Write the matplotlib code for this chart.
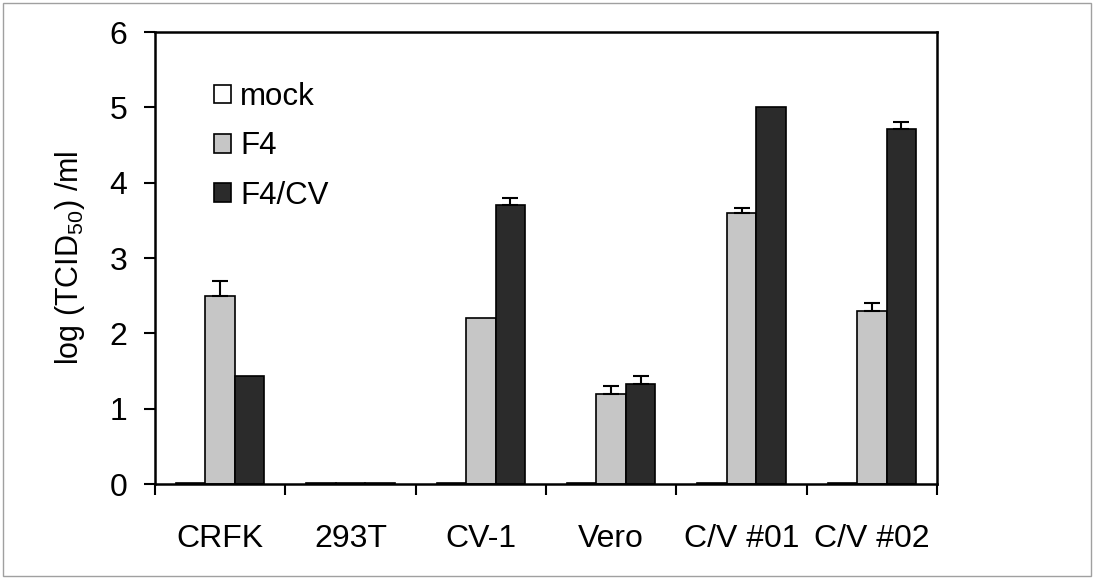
import numpy as np
import matplotlib.pyplot as plt
from matplotlib.patches import Rectangle

cells = ['CRFK', '293T', 'CV-1', 'Vero', 'C/V #01', 'C/V #02']
series = ['mock', 'F4', 'F4/CV']

mock = [0.02, 0.02, 0.02, 0.02, 0.02, 0.02]
f4 = [2.5, 0.02, 2.2, 1.2, 3.6, 2.3]
f4cv = [1.43, 0.02, 3.7, 1.33, 5.0, 4.71]

mock_err = [0, 0, 0, 0, 0, 0]
f4_err = [0.2, 0, 0, 0.1, 0.06, 0.1]
f4cv_err = [0, 0, 0.1, 0.1, 0, 0.1]

colors = ['white', '#c6c6c6', '#2b2b2b']

plt.rcParams['font.family'] = ['Liberation Sans', 'DejaVu Sans']
plt.rcParams['mathtext.fontset'] = 'custom'
plt.rcParams['mathtext.rm'] = 'Liberation Sans'

fig = plt.figure(figsize=(10.94, 5.78), dpi=100)
ax = fig.add_axes([0.1417, 0.1626, 0.7148, 0.782])

x = np.arange(len(cells))
w = 0.226
vals = [mock, f4, f4cv]
errs = [mock_err, f4_err, f4cv_err]
for i, (v, e) in enumerate(zip(vals, errs)):
    pos = x + (i - 1) * w
    ax.bar(pos, v, w, color=colors[i], edgecolor='black', linewidth=1.2,
           label=series[i], zorder=2)
    e = np.array(e)
    m = e > 0
    if m.any():
        ax.errorbar(pos[m], np.array(v)[m],
                    yerr=np.vstack([np.zeros(m.sum()), e[m]]),
                    fmt='none', ecolor='black', elinewidth=1.5,
                    capsize=6, capthick=1.5, zorder=3)

ax.set_xlim(-0.5, len(cells) - 0.5)
ax.set_ylim(0, 6)
ax.set_yticks(range(7))
ax.set_xticks(x)
ax.set_xticklabels(cells)
ax.set_xticks(np.arange(-0.5, len(cells)), minor=True)
ax.tick_params(axis='x', which='major', length=0, pad=29, labelsize=23)
ax.tick_params(axis='x', which='minor', length=8, width=1.5, direction='out')
ax.tick_params(axis='y', length=8, width=1.5, direction='out', labelsize=23, pad=12)
for s in ax.spines.values():
    s.set_linewidth(1.8)

ax.set_ylabel('log (TCID$_{50}$) /ml', fontsize=22, labelpad=16)

leg = ax.legend(loc='upper left', bbox_to_anchor=(0.055, 0.924), frameon=False,
                fontsize=22.5, handlelength=0.55, handleheight=0.55,
                handletextpad=0.3, labelspacing=0.62, borderpad=0)

fig.patches.append(Rectangle((0.003, 0.004), 0.994, 0.991, transform=fig.transFigure,
                             fill=False, edgecolor='#a0a0a0', linewidth=1))

fig.savefig('out.png', dpi=100)
